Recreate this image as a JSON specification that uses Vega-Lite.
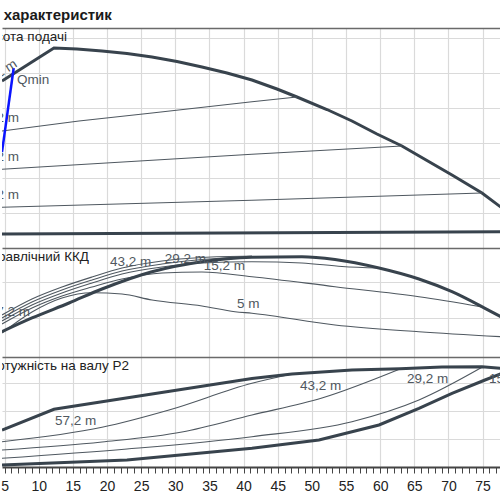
{
  "$schema": "https://vega.github.io/schema/vega-lite/v6.json",
  "padding": {"top": 8, "left": 0, "right": 0, "bottom": 0},
  "spacing": 0,
  "title": {"text": "характеристик", "anchor": "start", "fontSize": 15, "fontWeight": "bold", "color": "#1a1a1a", "offset": 5, "dx": 3, "font": "Liberation Sans"},
  "config": {"view": {"stroke": null}, "font": "Liberation Sans", "axis": {"minExtent": 0, "title": null}},
  "vconcat": [
    {
      "width": 500, "height": 220,
      "encoding": {
        "x": {"field": "x", "type": "quantitative", "scale": {"domain": [4.63, 77.84], "nice": false, "zero": false},
              "axis": {"values": [5,10,15,20,25,30,35,40,45,50,55,60,65,70,75], "grid": true, "labels": false, "ticks": false, "domain": false, "gridColor": "#dadada", "gridWidth": 1.2}},
        "y": {"field": "y", "type": "quantitative", "scale": {"domain": [0, 62.86], "nice": false, "zero": false},
              "axis": {"values": [10,20,30,40,50,60,62.86], "grid": true, "labels": false, "ticks": false, "domain": false,
                       "gridColor": {"condition": {"test": "datum.value > 62", "value": "#6a6a6a"}, "value": "#dadada"},
                       "gridWidth": {"condition": {"test": "datum.value > 62", "value": 1.6}, "value": 1.2}}}
      },
      "layer": [
        {
          "data": {"values": [
            {"s": "max", "x": 4.63, "y": 47.71}, {"s": "max", "x": 12.24, "y": 57.14}, {"s": "max", "x": 15.61, "y": 56.86},
            {"s": "max", "x": 19.27, "y": 56.29}, {"s": "max", "x": 22.93, "y": 55.57}, {"s": "max", "x": 26.59, "y": 54.57},
            {"s": "max", "x": 30.25, "y": 53.29}, {"s": "max", "x": 33.91, "y": 51.71}, {"s": "max", "x": 37.57, "y": 50.0},
            {"s": "max", "x": 41.23, "y": 48.0}, {"s": "max", "x": 44.89, "y": 45.43}, {"s": "max", "x": 47.82, "y": 43.14},
            {"s": "max", "x": 52.21, "y": 39.57}, {"s": "max", "x": 55.87, "y": 36.29}, {"s": "max", "x": 59.53, "y": 32.57},
            {"s": "max", "x": 63.19, "y": 29.14}, {"s": "max", "x": 66.85, "y": 25.0}, {"s": "max", "x": 70.52, "y": 20.86},
            {"s": "max", "x": 74.91, "y": 15.71}, {"s": "max", "x": 77.84, "y": 11.43},
            {"s": "5 m", "x": 4.63, "y": 4.0}, {"s": "5 m", "x": 77.84, "y": 4.66}
          ]},
          "mark": {"type": "line", "color": "#38434d", "strokeWidth": 3, "clip": true},
          "encoding": {"detail": {"field": "s"}}
        },
        {
          "data": {"values": [
            {"s": "43,2 m", "x": 4.63, "y": 33.43}, {"s": "43,2 m", "x": 15.9, "y": 36.29}, {"s": "43,2 m", "x": 26.59, "y": 38.57},
            {"s": "43,2 m", "x": 41.23, "y": 41.8}, {"s": "43,2 m", "x": 47.82, "y": 43.14},
            {"s": "29,2 m", "x": 4.63, "y": 22.49}, {"s": "29,2 m", "x": 41.23, "y": 26.77}, {"s": "29,2 m", "x": 63.19, "y": 29.14},
            {"s": "15,2 m", "x": 4.63, "y": 11.63}, {"s": "15,2 m", "x": 41.23, "y": 13.63}, {"s": "15,2 m", "x": 74.91, "y": 15.71}
          ]},
          "mark": {"type": "line", "color": "#4f5860", "strokeWidth": 1.1, "clip": true},
          "encoding": {"detail": {"field": "s"}}
        },
        {
          "data": {"values": [{"x": 6.34, "y": 51.43}, {"x": 4.63, "y": 27.43}]},
          "mark": {"type": "line", "color": "#0a14ff", "strokeWidth": 2.5, "clip": true}
        },
        {
          "data": {"values": [{"t": "Висота подачі", "x": 14.15, "y": 59.14}]},
          "mark": {"type": "text", "align": "right", "baseline": "alphabetic", "fontSize": 13.5, "color": "#222222", "clip": true},
          "encoding": {"text": {"field": "t"}}
        },
        {
          "data": {"values": [{"t": "43,2 m", "x": 7.12, "y": 36.0}, {"t": "29,2 m", "x": 7.12, "y": 24.86}, {"t": "15,2 m", "x": 7.12, "y": 14.0}]},
          "mark": {"type": "text", "align": "right", "baseline": "alphabetic", "fontSize": 13.5, "color": "#505860", "clip": true},
          "encoding": {"text": {"field": "t"}}
        },
        {
          "data": {"values": [{"t": "57,2 m", "x": 6.97, "y": 52.0}]},
          "mark": {"type": "text", "align": "right", "baseline": "alphabetic", "fontSize": 13.5, "angle": 327, "color": "#505860", "clip": true},
          "encoding": {"text": {"field": "t"}}
        },
        {
          "data": {"values": [{"t": "Qmin", "x": 6.83, "y": 46.86}]},
          "mark": {"type": "text", "align": "left", "baseline": "alphabetic", "fontSize": 13.5, "color": "#505860", "clip": true},
          "encoding": {"text": {"field": "t"}}
        }
      ]
    },
    {
      "width": 500, "height": 109,
      "encoding": {
        "x": {"field": "x", "type": "quantitative", "scale": {"domain": [4.63, 77.84], "nice": false, "zero": false},
              "axis": {"values": [5,10,15,20,25,30,35,40,45,50,55,60,65,70,75], "grid": true, "labels": false, "ticks": false, "domain": false, "gridColor": "#dadada", "gridWidth": 1.2}},
        "y": {"field": "y", "type": "quantitative", "scale": {"domain": [-1.67, 58.89], "nice": false, "zero": false},
              "axis": {"values": [20, 40, 58.89], "grid": true, "labels": false, "ticks": false, "domain": false,
                       "gridColor": {"condition": {"test": "datum.value > 58", "value": "#6a6a6a"}, "value": "#dadada"},
                       "gridWidth": {"condition": {"test": "datum.value > 58", "value": 1.6}, "value": 1.2}}}
      },
      "layer": [
        {
          "data": {"values": [
            {"s": "57,2 m", "x": 4.63, "y": 21.67}, {"s": "57,2 m", "x": 9.02, "y": 30.56}, {"s": "57,2 m", "x": 13.41, "y": 37.22},
            {"s": "57,2 m", "x": 17.81, "y": 42.78}, {"s": "57,2 m", "x": 22.2, "y": 47.78}, {"s": "57,2 m", "x": 28.06, "y": 51.67},
            {"s": "57,2 m", "x": 33.91, "y": 53.61}, {"s": "57,2 m", "x": 41.23, "y": 54.44},
            {"s": "43,2 m", "x": 4.63, "y": 20.0}, {"s": "43,2 m", "x": 9.02, "y": 28.89}, {"s": "43,2 m", "x": 13.41, "y": 35.56},
            {"s": "43,2 m", "x": 17.81, "y": 41.11}, {"s": "43,2 m", "x": 22.2, "y": 46.11}, {"s": "43,2 m", "x": 28.06, "y": 50.0},
            {"s": "43,2 m", "x": 33.91, "y": 52.5}, {"s": "43,2 m", "x": 41.23, "y": 53.89}, {"s": "43,2 m", "x": 47.82, "y": 54.06},
            {"s": "29,2 m", "x": 4.63, "y": 18.33}, {"s": "29,2 m", "x": 9.02, "y": 27.22}, {"s": "29,2 m", "x": 13.41, "y": 33.89},
            {"s": "29,2 m", "x": 17.81, "y": 39.44}, {"s": "29,2 m", "x": 22.2, "y": 44.44}, {"s": "29,2 m", "x": 28.06, "y": 48.33},
            {"s": "29,2 m", "x": 33.91, "y": 50.56}, {"s": "29,2 m", "x": 41.23, "y": 51.28}, {"s": "29,2 m", "x": 48.55, "y": 50.56},
            {"s": "29,2 m", "x": 54.41, "y": 48.61}, {"s": "29,2 m", "x": 59.83, "y": 47.78},
            {"s": "15,2 m", "x": 4.63, "y": 16.67}, {"s": "15,2 m", "x": 9.02, "y": 25.56}, {"s": "15,2 m", "x": 13.41, "y": 32.22},
            {"s": "15,2 m", "x": 17.81, "y": 37.22}, {"s": "15,2 m", "x": 22.2, "y": 41.67}, {"s": "15,2 m", "x": 28.06, "y": 45.0},
            {"s": "15,2 m", "x": 33.91, "y": 45.56}, {"s": "15,2 m", "x": 41.23, "y": 42.94}, {"s": "15,2 m", "x": 53.39, "y": 37.39},
            {"s": "15,2 m", "x": 65.68, "y": 31.83}, {"s": "15,2 m", "x": 74.91, "y": 26.2},
            {"s": "5 m", "x": 4.63, "y": 11.67}, {"s": "5 m", "x": 9.02, "y": 23.33}, {"s": "5 m", "x": 13.41, "y": 31.11},
            {"s": "5 m", "x": 17.81, "y": 34.06}, {"s": "5 m", "x": 22.2, "y": 33.33}, {"s": "5 m", "x": 26.59, "y": 30.0},
            {"s": "5 m", "x": 33.91, "y": 26.67}, {"s": "5 m", "x": 38.74, "y": 23.5}, {"s": "5 m", "x": 41.23, "y": 22.61},
            {"s": "5 m", "x": 53.39, "y": 16.11}, {"s": "5 m", "x": 65.68, "y": 12.39}, {"s": "5 m", "x": 77.84, "y": 9.61}
          ]},
          "mark": {"type": "line", "color": "#4f5860", "strokeWidth": 1.1, "clip": true, "interpolate": "monotone"},
          "encoding": {"detail": {"field": "s"}}
        },
        {
          "data": {"values": [
            {"s": "max", "x": 4.63, "y": 12.39}, {"s": "max", "x": 9.02, "y": 20.0}, {"s": "max", "x": 14.44, "y": 28.33},
            {"s": "max", "x": 19.27, "y": 36.11}, {"s": "max", "x": 26.59, "y": 45.72}, {"s": "max", "x": 33.91, "y": 51.28},
            {"s": "max", "x": 41.23, "y": 53.72}, {"s": "max", "x": 48.55, "y": 54.06}, {"s": "max", "x": 53.39, "y": 52.5},
            {"s": "max", "x": 59.83, "y": 47.78}, {"s": "max", "x": 65.68, "y": 41.67}, {"s": "max", "x": 70.52, "y": 34.61},
            {"s": "max", "x": 75.35, "y": 25.39}, {"s": "max", "x": 77.84, "y": 20.39}
          ]},
          "mark": {"type": "line", "color": "#38434d", "strokeWidth": 3, "clip": true, "interpolate": "monotone"}
        },
        {
          "data": {"values": [{"t": "Гідравлічний ККД", "x": 17.37, "y": 51.67}]},
          "mark": {"type": "text", "align": "right", "baseline": "alphabetic", "fontSize": 13.5, "color": "#222222", "clip": true},
          "encoding": {"text": {"field": "t"}}
        },
        {
          "data": {"values": [{"t": "57,2 m", "x": 8.73, "y": 21.1}]},
          "mark": {"type": "text", "align": "right", "baseline": "alphabetic", "fontSize": 13.5, "color": "#505860", "clip": true},
          "encoding": {"text": {"field": "t"}}
        },
        {
          "data": {"values": [{"t": "43,2 m", "x": 20.44, "y": 48.9}, {"t": "29,2 m", "x": 28.45, "y": 50.56}, {"t": "15,2 m", "x": 34.16, "y": 46.67}, {"t": "5 m", "x": 39.04, "y": 25.56}]},
          "mark": {"type": "text", "align": "left", "baseline": "alphabetic", "fontSize": 13.5, "color": "#505860", "clip": true},
          "encoding": {"text": {"field": "t"}}
        }
      ]
    },
    {
      "width": 500, "height": 110,
      "encoding": {
        "x": {"field": "x", "type": "quantitative", "scale": {"domain": [4.63, 77.84], "nice": false, "zero": false},
              "axis": {"values": [5,6,7,8,9,10,11,12,13,14,15,16,17,18,19,20,21,22,23,24,25,26,27,28,29,30,31,32,33,34,35,36,37,38,39,40,41,42,43,44,45,46,47,48,49,50,51,52,53,54,55,56,57,58,59,60,61,62,63,64,65,66,67,68,69,70,71,72,73,74,75,76,77],
                       "grid": true, "gridColor": "#dadada", "gridWidth": 1.2,
                       "gridOpacity": {"condition": {"test": "datum.value % 5 === 0", "value": 1}, "value": 0},
                       "labelExpr": "datum.value % 5 === 0 ? datum.label : ''",
                       "labelOverlap": false, "labelFontSize": 14, "labelColor": "#222222", "labelPadding": 6,
                       "ticks": true, "tickSize": 6, "tickColor": "#444444", "tickWidth": 1,
                       "domain": true, "domainColor": "#444444", "domainWidth": 2}},
        "y": {"field": "y", "type": "quantitative", "scale": {"domain": [0, 3.929], "nice": false, "zero": false},
              "axis": {"values": [1, 2, 3, 3.929], "grid": true, "labels": false, "ticks": false, "domain": false,
                       "gridColor": {"condition": {"test": "datum.value > 3.9", "value": "#6a6a6a"}, "value": "#dadada"},
                       "gridWidth": {"condition": {"test": "datum.value > 3.9", "value": 1.6}, "value": 1.2}}}
      },
      "layer": [
        {
          "data": {"values": [
            {"s": "43,2 m", "x": 4.63, "y": 0.904}, {"s": "43,2 m", "x": 19.27, "y": 1.418}, {"s": "43,2 m", "x": 29.08, "y": 2.036},
            {"s": "43,2 m", "x": 41.23, "y": 2.989}, {"s": "43,2 m", "x": 47.09, "y": 3.321},
            {"s": "29,2 m", "x": 4.63, "y": 0.607}, {"s": "29,2 m", "x": 19.27, "y": 0.893}, {"s": "29,2 m", "x": 30.98, "y": 1.25},
            {"s": "29,2 m", "x": 41.23, "y": 1.857}, {"s": "29,2 m", "x": 51.48, "y": 2.464}, {"s": "29,2 m", "x": 62.9, "y": 3.5},
            {"s": "15,2 m", "x": 4.63, "y": 0.311}, {"s": "15,2 m", "x": 22.93, "y": 0.643}, {"s": "15,2 m", "x": 41.23, "y": 1.082},
            {"s": "15,2 m", "x": 55.87, "y": 1.618}, {"s": "15,2 m", "x": 65.68, "y": 2.393}, {"s": "15,2 m", "x": 74.91, "y": 3.56}
          ]},
          "mark": {"type": "line", "color": "#4f5860", "strokeWidth": 1.1, "clip": true, "interpolate": "monotone"},
          "encoding": {"detail": {"field": "s"}}
        },
        {
          "data": {"values": [
            {"s": "max", "x": 4.63, "y": 1.321}, {"s": "max", "x": 12.24, "y": 2.061}, {"s": "max", "x": 19.27, "y": 2.329},
            {"s": "max", "x": 26.59, "y": 2.607}, {"s": "max", "x": 33.91, "y": 2.886}, {"s": "max", "x": 41.23, "y": 3.161},
            {"s": "max", "x": 47.09, "y": 3.321}, {"s": "max", "x": 55.87, "y": 3.464}, {"s": "max", "x": 62.9, "y": 3.51},
            {"s": "max", "x": 69.05, "y": 3.571}, {"s": "max", "x": 74.91, "y": 3.582}, {"s": "max", "x": 77.84, "y": 3.525},
            {"s": "5 m", "x": 4.63, "y": 0.071}, {"s": "5 m", "x": 22.93, "y": 0.25}, {"s": "5 m", "x": 41.23, "y": 0.668},
            {"s": "5 m", "x": 51.04, "y": 0.964}, {"s": "5 m", "x": 59.83, "y": 1.5}, {"s": "5 m", "x": 65.68, "y": 2.096},
            {"s": "5 m", "x": 70.52, "y": 2.632}, {"s": "5 m", "x": 75.35, "y": 3.107}, {"s": "5 m", "x": 77.84, "y": 3.346}
          ]},
          "mark": {"type": "line", "color": "#38434d", "strokeWidth": 3, "clip": true},
          "encoding": {"detail": {"field": "s"}}
        },
        {
          "data": {"values": [{"t": "Потужність на валу P2", "x": 23.22, "y": 3.464}]},
          "mark": {"type": "text", "align": "right", "baseline": "alphabetic", "fontSize": 13.5, "color": "#222222", "clip": true},
          "encoding": {"text": {"field": "t"}}
        },
        {
          "data": {"values": [{"t": "57,2 m", "x": 12.39, "y": 1.5}, {"t": "43,2 m", "x": 48.26, "y": 2.75}, {"t": "29,2 m", "x": 63.93, "y": 3.0}, {"t": "15,2 m", "x": 75.93, "y": 3.0}]},
          "mark": {"type": "text", "align": "left", "baseline": "alphabetic", "fontSize": 13.5, "color": "#505860", "clip": true},
          "encoding": {"text": {"field": "t"}}
        }
      ]
    }
  ]
}
